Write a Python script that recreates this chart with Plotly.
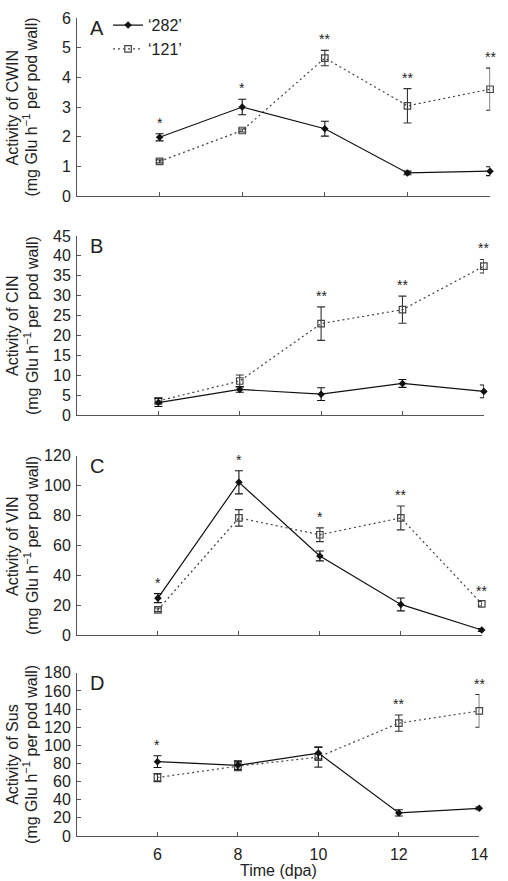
import plotly.graph_objects as go

days = [6, 8, 10, 12, 14]

# Panel A: CWIN
cwin_282 = [1.98, 3.00, 2.27, 0.78, 0.84]
cwin_282_err = [0.12, 0.26, 0.25, 0.06, 0.15]
cwin_121 = [1.17, 2.21, 4.65, 3.04, 3.60]
cwin_121_err = [0.05, 0.05, 0.26, 0.58, 0.71]
cwin_sig = ["*", "*", "**", "**", "**"]

# Panel B: CIN
cin_282 = [3.2, 6.5, 5.3, 8.0, 6.0]
cin_282_err = [1.0, 0.7, 1.6, 1.0, 1.6]
cin_121 = [3.6, 8.6, 23.0, 26.5, 37.4]
cin_121_err = [0.7, 1.5, 4.2, 3.4, 1.7]
cin_sig = ["", "", "**", "**", "**"]

# Panel C: VIN
vin_282 = [24.8, 102.3, 53.0, 20.6, 3.5]
vin_282_err = [3.0, 7.7, 3.3, 4.3, 1.0]
vin_121 = [17.0, 78.5, 67.2, 78.5, 21.0]
vin_121_err = [1.2, 5.5, 4.6, 8.0, 1.5]
vin_sig = ["*", "*", "*", "**", "**"]

# Panel D: Sus
sus_282 = [82.0, 78.0, 91.5, 25.5, 30.5]
sus_282_err = [6.5, 5.0, 6.5, 3.5, 1.5]
sus_121 = [64.5, 77.0, 87.0, 124.5, 138.0]
sus_121_err = [4.5, 5.0, 11.0, 9.0, 18.0]
sus_sig = ["*", "", "", "**", "**"]

panel_letters = ["A", "B", "C", "D"]
enzymes = ["CWIN", "CIN", "VIN", "Sus"]
y_max = [6, 45, 120, 180]
y_step = [1, 5, 20, 20]
unit_label = "(mg Glu h<sup>−1</sup> per pod wall)"
x_title = "Time (dpa)"
name_282 = "‘282’"
name_121 = "‘121’"

panels = [
    (cwin_282, cwin_282_err, cwin_121, cwin_121_err, cwin_sig),
    (cin_282, cin_282_err, cin_121, cin_121_err, cin_sig),
    (vin_282, vin_282_err, vin_121, vin_121_err, vin_sig),
    (sus_282, sus_282_err, sus_121, sus_121_err, sus_sig),
]

y_domains = [[0.7823, 1.0], [0.5143, 0.7336], [0.2455, 0.4647], [0.0, 0.1995]]
x_domains = [[0.0, 0.998], [0.0, 0.983], [0.0, 0.978], [0.0, 0.972]]

FONT = "Liberation Sans, Arial, Helvetica, sans-serif"
TXT = "#222222"
AX = "#555555"

fig = go.Figure()
annotations = []

for i, (v282, e282, v121, e121, sig) in enumerate(panels):
    n = i + 1
    sfx = "" if n == 1 else str(n)
    xa, ya = "x" + sfx, "y" + sfx

    fig.add_trace(go.Scatter(
        x=days, y=v121, xaxis=xa, yaxis=ya, name=name_121,
        mode="lines+markers", cliponaxis=False,
        showlegend=(n == 1), legendrank=2,
        line=dict(color="#444444", width=1.2, dash="2px,3px"),
        marker=dict(symbol="square-open", size=6.5, color="#444444",
                    line=dict(width=1.2, color="#444444")),
        error_y=dict(type="data", array=e121, color="#333333",
                     thickness=1.1, width=4),
    ))
    fig.add_trace(go.Scatter(
        x=days, y=v282, xaxis=xa, yaxis=ya, name=name_282,
        mode="lines+markers", cliponaxis=False,
        showlegend=(n == 1), legendrank=1,
        line=dict(color="#111111", width=1.2),
        marker=dict(symbol="diamond", size=5.8, color="#111111"),
        error_y=dict(type="data", array=e282, color="#111111",
                     thickness=1.1, width=4),
    ))

    fig.layout["xaxis" + sfx] = dict(
        domain=x_domains[i], anchor=ya, range=[4, 14.003], tickvals=days,
        ticktext=[str(d) for d in days], ticklabeloverflow="allow",
        showticklabels=(n == 4), ticks="inside", ticklen=4,
        tickcolor=AX, showline=True, linecolor=AX, linewidth=1,
        showgrid=False, zeroline=False, ticklabelstandoff=4,
        tickfont=dict(size=16, color=TXT, family=FONT),
    )
    fig.layout["yaxis" + sfx] = dict(
        domain=y_domains[i], anchor=xa, range=[0, y_max[i]],
        tick0=0, dtick=y_step[i], ticks="inside", ticklen=4,
        tickcolor=AX, showline=True, linecolor=AX, linewidth=1,
        showgrid=False, zeroline=False, ticklabelstandoff=2,
        tickfont=dict(size=16, color=TXT, family=FONT),
    )

    # significance stars
    for d, a, ea, b, eb, s in zip(days, v282, e282, v121, e121, sig):
        if s:
            annotations.append(dict(
                x=d, y=max(a + ea, b + eb), xref=xa, yref=ya,
                text=s, showarrow=False, yanchor="bottom", yshift=1,
                font=dict(size=14, color=TXT, family=FONT),
            ))

    # panel letter
    annotations.append(dict(
        x=(88 - 77) / 423, y=1, xref="paper", yref=ya + " domain",
        text=panel_letters[i], showarrow=False, xanchor="left",
        yanchor="top", yshift=3,
        font=dict(size=20, color=TXT, family=FONT),
    ))

    # y-axis title (two lines)
    annotations.append(dict(
        x=(11 - 77) / 423, y=0.5, xref="paper", yref=ya + " domain",
        text="Activity of " + enzymes[i], showarrow=False,
        textangle=-90, xanchor="center", yanchor="middle",
        font=dict(size=16, color=TXT, family=FONT),
    ))
    annotations.append(dict(
        x=(29.5 - 77) / 423, y=0.5, xref="paper", yref=ya + " domain",
        text=unit_label, showarrow=False,
        textangle=-90, xanchor="center", yanchor="middle",
        font=dict(size=16, color=TXT, family=FONT),
    ))

annotations.append(dict(
    x=0.5, y=0, xref="x4 domain", yref="y4 domain",
    text=x_title, showarrow=False, yanchor="top", yshift=-24,
    font=dict(size=16, color=TXT, family=FONT),
))

fig.update_layout(
    width=508, height=881,
    margin=dict(l=77, r=8, t=9, b=45, pad=0),
    paper_bgcolor="white", plot_bgcolor="white",
    font=dict(family=FONT, color=TXT),
    annotations=annotations,
    legend=dict(
        x=0.075, y=1.012, xanchor="left", yanchor="top",
        bgcolor="rgba(0,0,0,0)", borderwidth=0,
        font=dict(size=16, color=TXT, family=FONT),
        itemwidth=30, tracegroupgap=0,
    ),
)

fig.write_html(
    "out.html",
    config={"displayModeBar": False},
    post_script="document.body.style.margin='0';document.body.style.padding='0';",
)
